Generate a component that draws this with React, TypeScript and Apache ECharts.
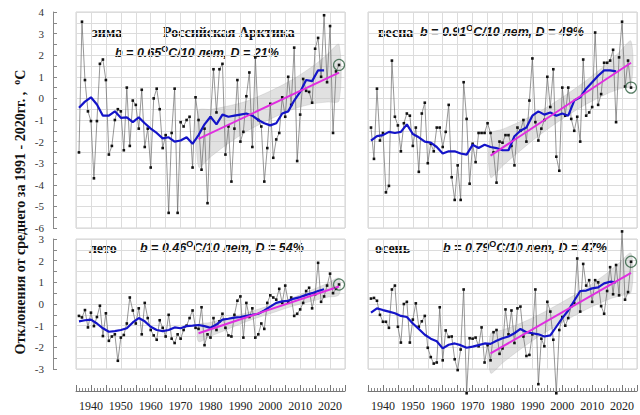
import React, { useEffect, useRef } from 'react';
import * as echarts from 'echarts';

// ---------- data ----------
const firstYear = 1936;
const lastYear = 2023;
const years: number[] = [];
for (let y = firstYear; y <= lastYear; y++) years.push(y);

const winterVals = [
  -2.5, 3.55, 0.85, -0.6, -1.05, -3.7, -1.05, 1.6, 1.8, 0.85,
  -2.6, -2.2, -1.0, -0.5, -0.6, -2.4, 0.5, -2.2, -0.1, -0.3,
  -1.4, 0.4, -2.25, -1.4, -3.2, 0.0, 0.45, -0.5, -2.3, -1.7,
  -5.3, -1.6, 0.45, -5.3, -1.1, -1.3, -1.0, -0.85, -3.2, 0.05,
  -1.0, -3.3, -1.4, -4.85, -0.9, 1.35, -0.65, 1.35, 1.6, -2.6,
  -1.3, -3.85, -1.4, 0.85, -2.0, -1.55, 0.1, 1.2, -2.25, 1.9,
  -1.0, -1.3, -3.85, -2.3, -0.25, -2.75, -1.9, -1.6, 0.05, -0.85,
  1.0, -0.3, 2.35, -2.9, -0.75, 0.9, 0.35, 0.3, -0.2, 2.3,
  2.8, 1.0, 3.85, 0.75, 3.35, -1.6, 1.25, 1.55,
];
const springVals = [
  -1.35, -2.8, 0.45, -1.95, -1.6, -4.35, -4.05, 1.75, -0.85, -1.25,
  -2.45, -1.15, -0.7, -0.8, -2.2, -1.35, -3.4, -0.7, -0.2, -3.0,
  -2.1, -2.45, -1.35, -1.35, -2.25, -1.55, -0.3, -3.65, -4.7, -3.1,
  -4.7, 0.75, -0.95, -3.95, -2.1, -2.95, -1.6, -1.6, -1.6, -1.15,
  -1.6, -2.5, -3.9, -2.0, -2.05, -1.7, -1.7, -2.2, -3.1, -1.35,
  -1.5, -1.0, -2.0, -0.1, 1.85, -1.1, -1.95, -1.4, -1.0, 1.0,
  -0.4, 1.35, -2.7, -3.35, 0.5, -0.8, 0.5, -0.95, -1.5, -0.85,
  -2.0, 1.8, -0.8, -0.65, -0.4, 3.05, -0.3, 0.2, 1.65, 1.65,
  1.75, 2.25, -1.1, 1.9, 3.55, 0.55, 1.75, 0.5,
];
const summerVals = [
  -0.55, -0.62, -0.28, -1.08, -0.4, -1.02, -0.6, -0.08, -1.48, -0.43,
  -1.7, -1.5, -1.4, -2.62, -1.55, -1.43, -0.9, 0.3, -0.3, -0.9,
  -0.2, -1.4, 0.05, -0.65, -1.2, -1.45, -1.65, -0.75, -1.1, -1.5,
  -0.5, -1.6, -1.8, -1.4, -1.6, -1.2, -1.0, -0.65, -0.3, -1.1,
  -1.15, -0.15, -1.9, -1.4, -1.55, -0.65, -1.2, -0.8, -0.45, -1.1,
  -1.45, -1.5, -0.5, 0.15, 0.35, -1.55, 0.05, -0.6, -0.2, -1.55,
  -1.4, -0.9, -1.15, 0.05, 0.4, 0.3, 0.2, 0.7, 0.05, 0.85,
  0.1, 0.3, -0.55, -0.45, -0.25, 0.05, 0.6, 0.75, -0.2, 0.45,
  1.9, 0.1, 0.35, 0.85, 1.4, 0.5, 0.7, 0.9,
];
const autumnVals = [
  0.25, 0.28, 0.15, -0.5, -0.82, -0.82, -1.1, 0.67, 0.85, -1.05,
  -1.78, 0.0, 0.1, -1.78, -0.72, 0.03, -1.05, -0.8, -0.55, -2.02,
  -2.45, -2.75, -2.7, -0.15, -2.6, -1.22, -1.52, -1.5, -2.55, -3.05,
  -2.1, 0.67, -4.12, -1.58, -1.6, -1.55, -1.95, -1.08, -2.7, -1.9,
  -2.6, -1.3, -1.2, -2.3, -2.05, -0.25, -1.4, -0.3, -1.8, -0.2,
  -0.12, -1.5, -2.4, -2.35, -1.4, 0.67, -3.7, -1.6, -1.95, 0.1,
  -0.35, -1.65, -4.12, -1.2, -0.6, -1.0, -0.65, -0.1, 0.05, 2.1,
  -0.35, 1.85, 0.85, 1.1, 0.1, 1.1, 1.0, -0.1, -0.45, 0.6,
  1.7, 0.45, 1.8, 0.4, 3.35, 0.2, 0.55, 1.95,
];

// smoothed curves (blue), read every 2 years
const smoothYears: number[] = [];
for (let y = 1936; y <= 2018; y += 2) smoothYears.push(y);
const winterSmooth = [
  -0.43, -0.15, 0.05, -0.28, -0.8, -0.8, -0.6, -0.9, -0.88, -1.1,
  -0.88, -1.15, -1.4, -1.6, -1.85, -1.8, -2.0, -1.95, -1.8, -2.1,
  -1.7, -1.2, -0.85, -1.2, -0.75, -0.85, -0.8, -0.75, -0.7, -0.8,
  -1.0, -1.15, -1.25, -1.15, -0.7, -0.6, -0.1, 0.3, 0.85, 0.8,
  1.3, 1.3,
];
const springSmooth = [
  -1.95, -1.75, -1.7, -1.55, -1.6, -1.55, -1.2, -1.65, -1.8, -2.0,
  -2.05, -2.25, -2.55, -2.45, -2.45, -2.55, -2.6, -2.15, -2.3, -2.15,
  -2.25, -2.3, -2.4, -2.4, -1.75, -1.5, -1.35, -0.8, -0.6, -0.75,
  -0.65, -0.8, -0.7, -0.8, -0.1, 0.05, 0.45, 0.75, 1.05, 1.3,
  1.3, 1.25,
];
const summerSmooth = [
  -0.8, -0.75, -0.72, -0.9, -1.12, -1.28, -1.25, -1.2, -1.12, -0.85,
  -0.65, -0.8, -1.05, -1.2, -1.25, -1.2, -1.08, -1.12, -1.02, -1.0,
  -0.97, -1.02, -1.1, -0.95, -0.72, -0.68, -0.63, -0.6, -0.55, -0.5,
  -0.45, -0.3, -0.12, 0.05, 0.12, 0.15, 0.25, 0.32, 0.42, 0.5,
  0.6, 0.68,
];
const autumnSmooth = [
  -0.4, -0.2, -0.28, -0.35, -0.43, -0.55, -0.6, -0.9, -1.15, -1.42,
  -1.6, -1.72, -2.05, -1.88, -1.82, -1.9, -2.02, -1.97, -1.9, -1.82,
  -1.84, -1.7, -1.58, -1.5, -1.35, -1.15, -1.3, -1.35, -1.4, -1.5,
  -1.45, -1.05, -0.65, -0.3, 0.15, 0.6, 0.62, 0.72, 0.77, 0.95,
  1.03, 1.0,
];

// linear trend 1976-2023 (magenta)
const trendYears = [1976, 2023];
const winterTrend = [-1.87, 1.19];
const springTrend = [-2.65, 1.65];
const summerTrend = [-1.35, 0.81];
const autumnTrend = [-2.28, 1.44];

// confidence band (grey)
const bandYears = [1976, 1980, 1985, 1992, 2000, 2008, 2015, 2019, 2023];
const winterUpper = [-0.57, -0.51, -0.38, -0.13, 0.34, 0.92, 1.57, 2.03, 2.49];
const winterLower = [-3.17, -2.71, -2.18, -1.53, -0.96, -0.48, -0.23, -0.17, -0.11];
const springUpper = [-1.65, -1.43, -1.13, -0.64, 0.05, 0.83, 1.62, 2.13, 2.65];
const springLower = [-3.65, -3.13, -2.53, -1.74, -0.95, -0.27, 0.22, 0.43, 0.65];
const summerUpper = [-0.97, -0.85, -0.67, -0.41, -0.06, 0.32, 0.71, 0.95, 1.19];
const summerLower = [-1.73, -1.49, -1.21, -0.81, -0.44, -0.08, 0.17, 0.31, 0.43];
const autumnUpper = [-1.38, -1.2, -0.95, -0.51, 0.09, 0.75, 1.43, 1.89, 2.34];
const autumnLower = [-3.18, -2.72, -2.19, -1.51, -0.85, -0.25, 0.19, 0.37, 0.54];

const seasonNames = ['зима', 'весна', 'лето', 'осень'];
const slopeTexts = ['0.65', '0.91', '0.46', '0.79'];
const dTexts = ['21', '49', '54', '47'];
const regionTitle = 'Российская Арктика';
const yTitle = 'Отклонения от среднего за 1991 - 2020гг. ,  ';

// ---------- layout ----------
const SERIF = '"Liberation Serif", "Times New Roman", serif';
const SANS = '"Liberation Sans", Arial, sans-serif';

const panels = [
  { left: 76, top: 12, height: 216, min: -6, max: 4, leftCol: true, bottomRow: false },
  { left: 368, top: 12, height: 216, min: -6, max: 4, leftCol: false, bottomRow: false },
  { left: 76, top: 239, height: 130, min: -3, max: 3, leftCol: true, bottomRow: true },
  { left: 368, top: 239, height: 130, min: -3, max: 3, leftCol: false, bottomRow: true },
];
const seasonData = [
  { vals: winterVals, smooth: winterSmooth, trend: winterTrend, up: winterUpper, lo: winterLower },
  { vals: springVals, smooth: springSmooth, trend: springTrend, up: springUpper, lo: springLower },
  { vals: summerVals, smooth: summerSmooth, trend: summerTrend, up: summerUpper, lo: summerLower },
  { vals: autumnVals, smooth: autumnSmooth, trend: autumnTrend, up: autumnUpper, lo: autumnLower },
];

const textPos = [
  { nameX: 92, statX: 115, y: 32, statY: 53 },
  { nameX: 378, statX: 420, y: 32, statY: 32 },
  { nameX: 89, statX: 140, y: 248, statY: 248 },
  { nameX: 375, statX: 443, y: 248, statY: 248 },
];

function buildOption() {
  const grid = panels.map((p) => ({
    left: p.left,
    top: p.top,
    width: 269,
    height: p.height,
    show: true,
    backgroundColor: '#fff',
    borderColor: '#d2d2d2',
    borderWidth: 1,
  }));

  const xAxis = panels.map((p, i) => ({
    type: 'value',
    gridIndex: i,
    min: 1935,
    max: 2025,
    interval: 5,
    offset: p.bottomRow ? 22 : 0,
    splitLine: { show: true, lineStyle: { color: '#dcdcdc', width: 1 } },
    axisLine: { show: p.bottomRow, onZero: false, lineStyle: { color: '#777', width: 1 } },
    axisTick: { show: p.bottomRow, inside: true, length: 6, lineStyle: { color: '#777' } },
    minorTick: { show: p.bottomRow, splitNumber: 5, length: 3, lineStyle: { color: '#888' } },
    axisLabel: {
      show: p.bottomRow,
      formatter: (v: number) => (v % 10 === 0 ? String(v) : ''),
      fontFamily: SERIF,
      fontSize: 12,
      color: '#222',
      margin: 9,
    },
  }));

  const yAxis = panels.map((p, i) => ({
    type: 'value',
    gridIndex: i,
    min: p.min,
    max: p.max,
    interval: 0.5,
    offset: p.leftCol ? 23 : 0,
    splitLine: { show: true, lineStyle: { color: '#dcdcdc', width: 1 } },
    axisLine: { show: p.leftCol, onZero: false, lineStyle: { color: '#888' } },
    axisTick: { show: p.leftCol, inside: true, length: 4, lineStyle: { color: '#888' } },
    axisLabel: {
      show: p.leftCol,
      formatter: (v: number) => (Math.abs(v - Math.round(v)) < 1e-6 ? String(Math.round(v)) : ''),
      fontFamily: SERIF,
      fontSize: 11,
      lineHeight: 10,
      color: '#333',
      margin: 9,
    },
  }));

  const series: any[] = [];
  seasonData.forEach((s, i) => {
    series.push({
      type: 'custom',
      xAxisIndex: i,
      yAxisIndex: i,
      silent: true,
      z: 1,
      data: [[2000, 0]],
      renderItem: (_params: any, api: any) => {
        const up = bandYears.map((yr, k) => api.coord([yr, s.up[k]]));
        const lo = bandYears.map((yr, k) => api.coord([yr, s.lo[k]])).reverse();
        return {
          type: 'polygon',
          shape: { points: up.concat(lo), smooth: 0.3 },
          style: { fill: 'rgba(195,195,195,0.5)', stroke: 'rgba(175,175,175,0.5)', lineWidth: 0.6 },
        };
      },
    });
    series.push({
      type: 'line',
      xAxisIndex: i,
      yAxisIndex: i,
      data: years.map((yr, k) => [yr, s.vals[k]]),
      symbol: 'rect',
      symbolSize: 2.6,
      showSymbol: true,
      clip: false,
      lineStyle: { color: '#6a6a6a', width: 0.7 },
      itemStyle: { color: '#111' },
      z: 2,
    });
    series.push({
      type: 'line',
      xAxisIndex: i,
      yAxisIndex: i,
      data: smoothYears.map((yr, k) => [yr, s.smooth[k]]),
      symbol: 'none',
      lineStyle: { color: '#1414c8', width: 2.2 },
      z: 3,
    });
    series.push({
      type: 'line',
      xAxisIndex: i,
      yAxisIndex: i,
      data: trendYears.map((yr, k) => [yr, s.trend[k]]),
      symbol: 'none',
      lineStyle: { color: '#e02ee0', width: 2 },
      z: 4,
    });
    series.push({
      type: 'scatter',
      xAxisIndex: i,
      yAxisIndex: i,
      data: [[lastYear, s.vals[s.vals.length - 1]]],
      symbol: 'circle',
      symbolSize: 11,
      clip: false,
      itemStyle: { color: 'rgba(255,255,255,0)', borderColor: '#2d5e3e', borderWidth: 1.2 },
      z: 5,
    });
  });

  const graphic: any[] = [];
  const statRich = {
    n: { fontFamily: SANS, fontSize: 12.5, fontWeight: 'bold', fontStyle: 'italic', fill: '#111' },
    s: { fontFamily: SANS, fontSize: 9, fontWeight: 'bold', fill: '#111', padding: [0, 0, 8, 0] },
  };
  textPos.forEach((t, i) => {
    graphic.push({
      type: 'text',
      x: t.nameX,
      y: t.y,
      style: {
        text: seasonNames[i],
        font: `bold 14px ${SERIF}`,
        fill: '#111',
        verticalAlign: 'middle',
      },
    });
    graphic.push({
      type: 'text',
      x: t.statX,
      y: t.statY,
      style: {
        text: `{n|b = ${slopeTexts[i]}}{s|O}{n|C/10 лет, D = ${dTexts[i]}%}`,
        rich: statRich,
        verticalAlign: 'middle',
      },
    });
  });
  graphic.push({
    type: 'text',
    x: 163,
    y: 32,
    style: { text: regionTitle, font: `bold 14px ${SERIF}`, fill: '#111', verticalAlign: 'middle' },
  });
  graphic.push({
    type: 'text',
    x: 20,
    y: 212,
    rotation: Math.PI / 2,
    style: {
      text: `{t|${yTitle}}{s|o}{t|C}`,
      rich: {
        t: { fontFamily: SERIF, fontSize: 14, fontWeight: 'bold', fill: '#111' },
        s: { fontFamily: SERIF, fontSize: 10, fontWeight: 'bold', fill: '#111', padding: [0, 0, 8, 0] },
      },
      align: 'center',
      verticalAlign: 'middle',
    },
  });

  return {
    animation: false,
    backgroundColor: '#fff',
    grid,
    xAxis,
    yAxis,
    series,
    graphic,
  };
}

export default function App() {
  const ref = useRef<HTMLDivElement>(null);
  useEffect(() => {
    if (!ref.current) return;
    const chart = echarts.init(ref.current, undefined, { renderer: 'svg' });
    chart.setOption(buildOption() as any);
    return () => chart.dispose();
  }, []);
  return (
    <div
      ref={ref}
      style={{ position: 'fixed', left: 0, top: 0, width: 640, height: 415, background: '#fff' }}
    />
  );
}
